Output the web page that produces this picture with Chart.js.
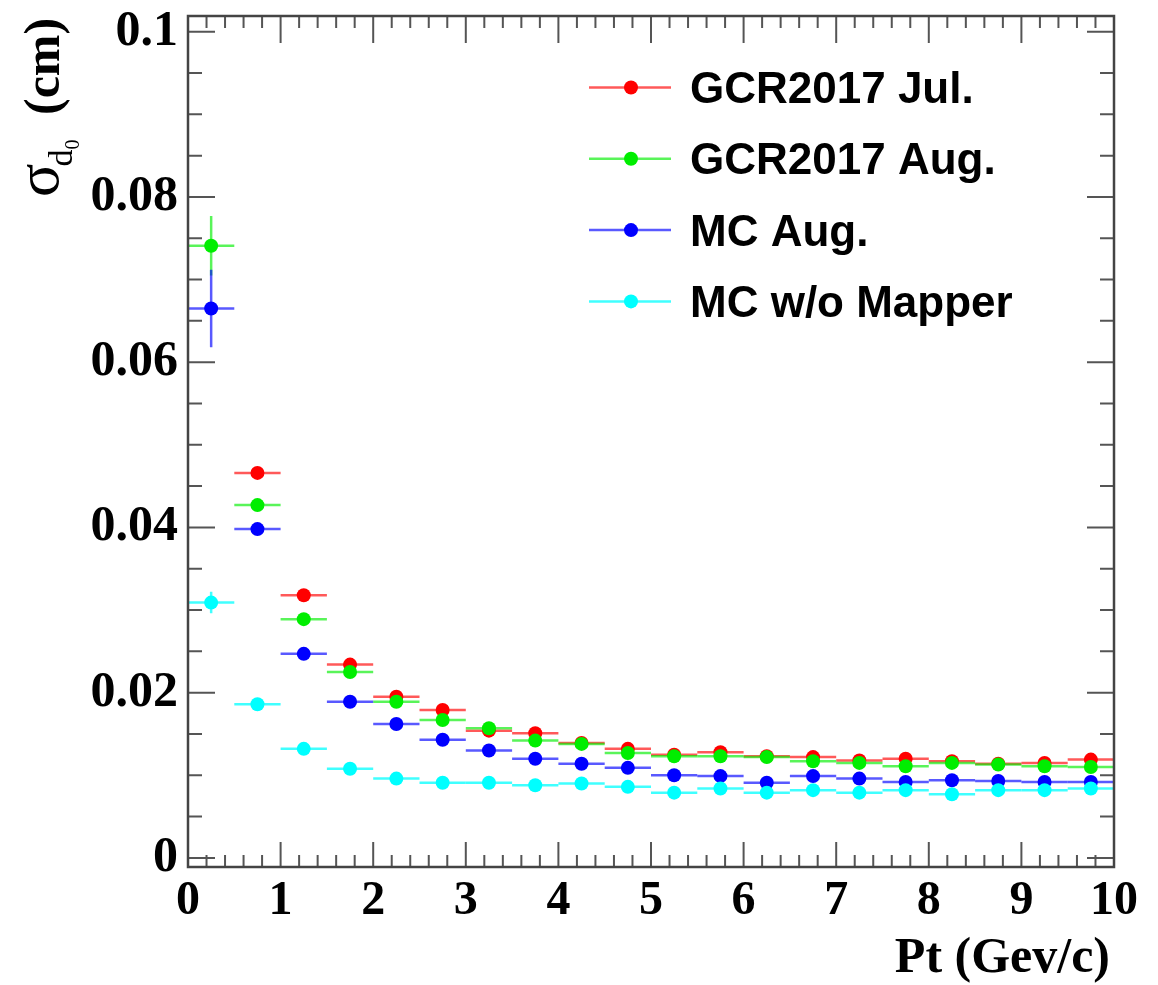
<!DOCTYPE html>
<html><head><meta charset="utf-8">
<script src="https://cdn.jsdelivr.net/npm/chart.js@4.4.1/dist/chart.umd.min.js"></script>
<style>html,body{margin:0;padding:0;background:#fff;}canvas{display:block;}</style>
</head><body>
<canvas id="c" width="1158" height="985"></canvas>
<script>
// ---- data ----
const ptCenters = [0.25,0.75,1.25,1.75,2.25,2.75,3.25,3.75,4.25,4.75,5.25,5.75,6.25,6.75,7.25,7.75,8.25,8.75,9.25,9.75];
const ptHalfWidth = 0.25;
const seriesLabels = ["GCR2017 Jul.", "GCR2017 Aug.", "MC Aug.", "MC w/o Mapper"];
const seriesColors = ["#ff0000", "#00ee00", "#0000ff", "#00ffff"];
const errColors = ["rgba(255,0,0,0.65)", "rgba(0,238,0,0.65)", "rgba(0,0,255,0.65)", "rgba(0,255,255,0.75)"];
const julVals = [null,0.0466,0.0318,0.0234,0.0195,0.0179,0.0154,0.0151,0.0139,0.0132,0.0125,0.0128,0.0123,0.0122,0.0118,0.0120,0.0117,0.0114,0.0115,0.0119];
const julErr  = [null,0.0004,0.0004,0.0003,0.0003,0.0003,0.0003,0.0003,0.0002,0.0002,0.0002,0.0002,0.0002,0.0002,0.0002,0.0002,0.0002,0.0002,0.0002,0.0002];
const augVals = [0.0741,0.0427,0.0289,0.0225,0.0189,0.0167,0.0157,0.0142,0.0138,0.0127,0.0123,0.0123,0.0122,0.0117,0.0115,0.0111,0.0115,0.0113,0.0111,0.0110];
const augErr  = [0.0036,0.0004,0.0004,0.0003,0.0003,0.0003,0.0003,0.0003,0.0002,0.0002,0.0002,0.0002,0.0002,0.0002,0.0002,0.0002,0.0002,0.0002,0.0002,0.0002];
const mcAugVals = [0.0665,0.0398,0.0247,0.0189,0.0162,0.0143,0.0130,0.0120,0.0114,0.0109,0.0100,0.0099,0.0091,0.0099,0.0096,0.0092,0.0094,0.0093,0.0092,0.0092];
const mcAugErr  = [0.0047,0.0004,0.0004,0.0003,0.0003,0.0003,0.0003,0.0003,0.0002,0.0002,0.0002,0.0002,0.0002,0.0002,0.0002,0.0002,0.0002,0.0002,0.0002,0.0002];
const mcNoMapVals = [0.0309,0.0186,0.0132,0.0108,0.0096,0.0091,0.0091,0.0088,0.0090,0.0086,0.0079,0.0084,0.0079,0.0082,0.0079,0.0082,0.0077,0.0082,0.0082,0.0084];
const mcNoMapErr  = [0.0013,0.0004,0.0003,0.0003,0.0002,0.0002,0.0002,0.0002,0.0002,0.0002,0.0002,0.0002,0.0002,0.0002,0.0002,0.0002,0.0002,0.0002,0.0002,0.0002];
const xMajorTicks = [0,1,2,3,4,5,6,7,8,9,10];
const yMajorTicks = [0,0.02,0.04,0.06,0.08,0.1];
const xMinorDiv = 5, yMinorDiv = 4;
const xTitle = "Pt (Gev/c)";

const allVals = [julVals, augVals, mcAugVals, mcNoMapVals];
const allErrs = [julErr, augErr, mcAugErr, mcNoMapErr];

function mkData(vals, errs){
  const out = [];
  ptCenters.forEach((x,i)=>{ if(vals[i]!==null) out.push({x:x, y:vals[i], e:errs[i]}); });
  return out;
}

const datasets = seriesLabels.map((lab,i)=>({
  label: lab,
  data: mkData(allVals[i], allErrs[i]),
  showLine: false,
  pointRadius: 7,
  pointHoverRadius: 7,
  pointBackgroundColor: seriesColors[i],
  pointBorderWidth: 0,
  borderColor: seriesColors[i],
  backgroundColor: seriesColors[i],
  errColor: errColors[i],
  order: 4 - i
}));

const errPlugin = {
  id: 'errbars',
  beforeDatasetDraw(chart, args){
    const ds = chart.data.datasets[args.index];
    const {ctx, chartArea:a} = chart;
    const x = chart.scales.x, y = chart.scales.y;
    ctx.save();
    ctx.beginPath(); ctx.rect(a.left, a.top, a.right-a.left, a.bottom-a.top); ctx.clip();
    ctx.strokeStyle = ds.errColor; ctx.lineWidth = 2.5;
    ds.data.forEach(p=>{
      const px = x.getPixelForValue(p.x), py = y.getPixelForValue(p.y);
      ctx.beginPath();
      ctx.moveTo(x.getPixelForValue(p.x-ptHalfWidth), py);
      ctx.lineTo(x.getPixelForValue(p.x+ptHalfWidth), py);
      if (p.e){
        ctx.moveTo(px, y.getPixelForValue(p.y-p.e));
        ctx.lineTo(px, y.getPixelForValue(p.y+p.e));
      }
      ctx.stroke();
    });
    ctx.restore();
  }
};

const framePlugin = {
  id: 'frame',
  afterDraw(chart){
    const {ctx, chartArea:a} = chart;
    const x = chart.scales.x, y = chart.scales.y;
    ctx.save();
    ctx.strokeStyle = '#555'; ctx.lineWidth = 2;
    for (let m=0; m<yMajorTicks.length; m++){
      const v0 = yMajorTicks[m];
      const py = y.getPixelForValue(v0);
      ctx.beginPath();
      ctx.moveTo(a.left, py); ctx.lineTo(a.left+27, py);
      ctx.moveTo(a.right, py); ctx.lineTo(a.right-27, py);
      ctx.stroke();
      if (m < yMajorTicks.length-1){
        const step = (yMajorTicks[m+1]-v0)/yMinorDiv;
        for (let k=1;k<yMinorDiv;k++){
          const pm = y.getPixelForValue(v0+k*step);
          ctx.beginPath();
          ctx.moveTo(a.left, pm); ctx.lineTo(a.left+14, pm);
          ctx.moveTo(a.right, pm); ctx.lineTo(a.right-14, pm);
          ctx.stroke();
        }
      }
    }
    for (let m=0; m<xMajorTicks.length; m++){
      const v0 = xMajorTicks[m];
      const px = x.getPixelForValue(v0);
      ctx.beginPath();
      ctx.moveTo(px, a.bottom); ctx.lineTo(px, a.bottom-25);
      ctx.moveTo(px, a.top); ctx.lineTo(px, a.top+27);
      ctx.stroke();
      if (m < xMajorTicks.length-1){
        const step = (xMajorTicks[m+1]-v0)/xMinorDiv;
        for (let k=1;k<xMinorDiv;k++){
          const pm = x.getPixelForValue(v0+k*step);
          ctx.beginPath();
          ctx.moveTo(pm, a.bottom); ctx.lineTo(pm, a.bottom-12);
          ctx.moveTo(pm, a.top); ctx.lineTo(pm, a.top+12);
          ctx.stroke();
        }
      }
    }
    ctx.strokeStyle = '#444'; ctx.lineWidth = 2.5;
    ctx.strokeRect(a.left, a.top, a.right-a.left, a.bottom-a.top);

    // legend
    chart.data.datasets.forEach((ds,i)=>{
      const base = 103 + 71.3*i;
      const my = base - 15.5;
      ctx.strokeStyle = ds.errColor; ctx.lineWidth = 2.5;
      ctx.beginPath(); ctx.moveTo(589, my); ctx.lineTo(671, my); ctx.stroke();
      ctx.fillStyle = ds.pointBackgroundColor;
      ctx.beginPath(); ctx.arc(631, my, 7, 0, Math.PI*2); ctx.fill();
      ctx.fillStyle = '#000';
      ctx.font = 'bold 44px "Liberation Sans", Arial, sans-serif';
      ctx.textAlign = 'left'; ctx.textBaseline = 'alphabetic';
      ctx.fillText(ds.label, 690, base);
    });

    // x title
    ctx.fillStyle = '#000';
    ctx.font = 'bold 50px "Liberation Serif", "Times New Roman", serif';
    ctx.textAlign = 'right'; ctx.textBaseline = 'alphabetic';
    ctx.fillText(xTitle, 1110, 972);

    // y title (rotated)
    ctx.save();
    ctx.translate(58, 197);
    ctx.rotate(-Math.PI/2);
    ctx.textAlign = 'left';
    ctx.font = '62px "Liberation Serif", "Times New Roman", serif';
    ctx.fillText('σ', 0, 0);
    let u = ctx.measureText('σ').width - 3;
    ctx.font = '34px "Liberation Serif", "Times New Roman", serif';
    ctx.fillText('d', u, 14);
    u += ctx.measureText('d').width;
    ctx.font = '20px "Liberation Serif", "Times New Roman", serif';
    ctx.fillText('0', u, 21);
    ctx.font = 'bold 50px "Liberation Serif", "Times New Roman", serif';
    ctx.fillText('(cm)', 82, 1);
    ctx.restore();

    ctx.restore();
  }
};

new Chart(document.getElementById('c'), {
  type: 'scatter',
  data: { datasets: datasets },
  plugins: [errPlugin, framePlugin],
  options: {
    responsive: false,
    devicePixelRatio: 1,
    animation: false,
    layout: { padding: { left: 0, top: 16, right: 44, bottom: 0 } },
    plugins: { legend: { display: false }, tooltip: { enabled: false } },
    scales: {
      x: {
        type: 'linear', position: 'bottom', min: 0, max: 10,
        grid: { display: false, drawTicks: false },
        border: { display: false },
        afterBuildTicks: s => { s.ticks = xMajorTicks.map(v=>({value:v})); },
        afterFit: s => { s.height = 118; s.paddingLeft = 0; s.paddingRight = 0; },
        ticks: {
          autoSkip: false, maxRotation: 0, padding: 6, color: '#000',
          font: { family: '"Liberation Serif", "Times New Roman", serif', weight: 'bold', size: 48 },
          callback: v => String(v)
        }
      },
      y: {
        type: 'linear', position: 'left', min: -0.0011, max: 0.1019,
        grid: { display: false, drawTicks: false },
        border: { display: false },
        afterBuildTicks: s => { s.ticks = yMajorTicks.map(v=>({value:v})); },
        afterFit: s => { s.width = 188; s.paddingTop = 0; s.paddingBottom = 0; },
        ticks: {
          autoSkip: false, padding: 10, color: '#000',
          font: { family: '"Liberation Serif", "Times New Roman", serif', weight: 'bold', size: 50 },
          callback: v => String(+v.toFixed(3))
        }
      }
    }
  }
});
</script>
</body></html>
